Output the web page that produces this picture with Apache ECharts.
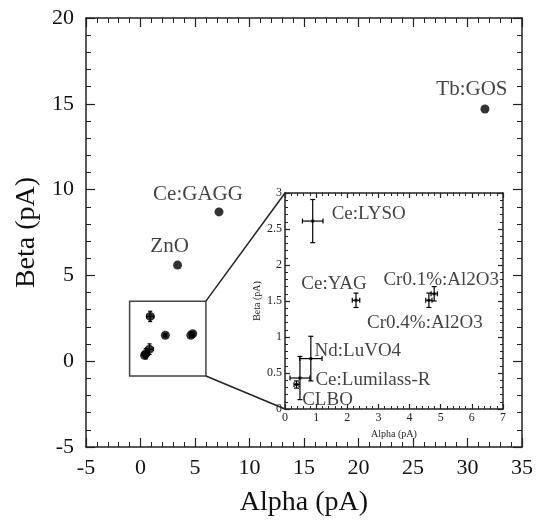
<!DOCTYPE html>
<html><head><meta charset="utf-8">
<script src="https://cdn.jsdelivr.net/npm/echarts@6/dist/echarts.min.js"></script>
<style>html,body{margin:0;padding:0;background:#fff}#c{width:536px;height:522px}</style>
</head><body><div id="c"></div>
<script>
// ---- data ----
const names    = ['Ce:LYSO','Ce:YAG','Cr0.1%:Al2O3','Cr0.4%:Al2O3','Nd:LuVO4','Ce:Lumilass-R','CLBO','ZnO','Ce:GAGG','Tb:GOS'];
const alpha    = [0.89, 2.28, 4.79, 4.62, 0.83, 0.48, 0.37, 3.4, 7.2, 31.6];
const beta     = [2.61, 1.51, 1.60, 1.51, 0.70, 0.43, 0.34, 5.6, 8.7, 14.7];
const alphaErr = [0.33, 0.12, 0.10, 0.10, 0.36, 0.32, 0.08, 0, 0, 0];
const betaErr  = [0.30, 0.10, 0.10, 0.10, 0.31, 0.30, 0.05, 0, 0, 0];
const mainLabeled  = ['ZnO','Ce:GAGG','Tb:GOS'];
const insetLabeled = ['Ce:LYSO','Ce:YAG','Cr0.1%:Al2O3','Cr0.4%:Al2O3','Nd:LuVO4','Ce:Lumilass-R','CLBO'];
const zoomX = [-1, 6];
const zoomY = [-0.86, 3.5];
const mainXRange = [-5, 35], mainYRange = [-5, 20];
const insetXRange = [0, 7], insetYRange = [0, 3];

// ---- styles ----
const FONT = 'Liberation Serif';
const labelOffsets = {
  'ZnO':[-8,-19], 'Ce:GAGG':[-21,-17], 'Tb:GOS':[-13,-19],
  'Ce:LYSO':[56,-7], 'Ce:YAG':[-22,-16], 'Cr0.1%:Al2O3':[7,-14], 'Cr0.4%:Al2O3':[-4,23],
  'Nd:LuVO4':[47,-8], 'Ce:Lumilass-R':[73,2], 'CLBO':[31,15]
};

const chart = echarts.init(document.getElementById('c'), null, {renderer:'canvas'});

function axisCommon(range, interval, opts) {
  return Object.assign({
    type:'value', min:range[0], max:range[1], interval:interval,
    splitLine:{show:false},
    axisLine:{show:true, onZero:false, lineStyle:{color:'#222', width:1.5}},
    axisTick:{show:true, inside:true, length:opts.major, lineStyle:{color:'#222', width:1.2}},
    minorTick:{show:true, splitNumber:opts.split, length:opts.minor, lineStyle:{color:'#222', width:1}},
  }, opts.extra || {});
}

const errData = names.map((n,i)=>[alpha[i], beta[i], alphaErr[i], betaErr[i]]);
function errRender(cap, lw){
  return function(params, api){
    const x=api.value(0), y=api.value(1), ex=api.value(2), ey=api.value(3);
    const ch=[]; const st={stroke:'#000', lineWidth:lw};
    if (ey>0){
      const t=api.coord([x,y+ey]), b=api.coord([x,y-ey]);
      ch.push({type:'line', shape:{x1:t[0],y1:t[1],x2:b[0],y2:b[1]}, style:st});
      ch.push({type:'line', shape:{x1:t[0]-cap,y1:t[1],x2:t[0]+cap,y2:t[1]}, style:st});
      ch.push({type:'line', shape:{x1:b[0]-cap,y1:b[1],x2:b[0]+cap,y2:b[1]}, style:st});
    }
    if (ex>0){
      const l=api.coord([x-ex,y]), r=api.coord([x+ex,y]);
      ch.push({type:'line', shape:{x1:l[0],y1:l[1],x2:r[0],y2:r[1]}, style:st});
      ch.push({type:'line', shape:{x1:l[0],y1:l[1]-cap,x2:l[0],y2:l[1]+cap}, style:st});
      ch.push({type:'line', shape:{x1:r[0],y1:r[1]-cap,x2:r[0],y2:r[1]+cap}, style:st});
    }
    return {type:'group', children:ch};
  };
}

function scatterData(labeledList, fontSize){
  return names.map((n,i)=>({
    value:[alpha[i], beta[i]], name:n,
    label:{show: labeledList.indexOf(n)>=0, formatter:n, position:'inside', offset: labelOffsets[n] || [0,0],
           fontFamily:FONT, fontSize:fontSize, color:'#111'}
  }));
}

const option = {
  animation:false,
  backgroundColor:'#fff',
  grid:[
    {left:86, right:13, top:18, bottom:69},
    {left:285, top:193, width:218, height:216, show:true, backgroundColor:'#fff', borderWidth:0}
  ],
  xAxis:[
    axisCommon(mainXRange, 5, {major:9, minor:5, split:5, extra:{gridIndex:0, position:'bottom',
      axisLabel:{fontFamily:FONT, fontSize:22, color:'#111', margin:10},
      name:'Alpha (pA)', nameLocation:'middle', nameGap:42, nameTextStyle:{fontFamily:FONT, fontSize:28, color:'#111'}}}),
    axisCommon(mainXRange, 5, {major:9, minor:5, split:5, extra:{gridIndex:0, position:'top', axisLabel:{show:false}}}),
    axisCommon(insetXRange, 1, {major:5, minor:3, split:5, extra:{gridIndex:1, position:'bottom',
      axisLabel:{fontFamily:FONT, fontSize:12, color:'#222', margin:3},
      name:'Alpha (pA)', nameLocation:'middle', nameGap:20, nameTextStyle:{fontFamily:FONT, fontSize:10, color:'#222'}}}),
    axisCommon(insetXRange, 1, {major:5, minor:3, split:5, extra:{gridIndex:1, position:'top', axisLabel:{show:false}}})
  ],
  yAxis:[
    axisCommon(mainYRange, 5, {major:9, minor:5, split:5, extra:{gridIndex:0, position:'left',
      axisLabel:{fontFamily:FONT, fontSize:22, color:'#111', margin:12},
      name:'Beta (pA)', nameLocation:'middle', nameGap:45, nameTextStyle:{fontFamily:FONT, fontSize:28, color:'#111'}}}),
    axisCommon(mainYRange, 5, {major:9, minor:5, split:5, extra:{gridIndex:0, position:'right', axisLabel:{show:false}}}),
    axisCommon(insetYRange, 0.5, {major:5, minor:3, split:5, extra:{gridIndex:1, position:'left',
      axisLabel:{fontFamily:FONT, fontSize:12, color:'#222', margin:3},
      name:'Beta (pA)', nameLocation:'middle', nameGap:23, nameTextStyle:{fontFamily:FONT, fontSize:10, color:'#222'}}}),
    axisCommon(insetYRange, 0.5, {major:5, minor:3, split:5, extra:{gridIndex:1, position:'right', axisLabel:{show:false}}})
  ],
  series:[
    {type:'custom', xAxisIndex:0, yAxisIndex:0, data:[[zoomX[0], zoomY[0], zoomX[1], zoomY[1]]],
      renderItem:function(p, api){
        const a=api.coord([api.value(0), api.value(3)]), b=api.coord([api.value(2), api.value(1)]);
        return {type:'rect', shape:{x:a[0], y:a[1], width:b[0]-a[0], height:b[1]-a[1]},
          style:{fill:null, stroke:'#444', lineWidth:1.5}};
      }, silent:true, z:1},
    {type:'custom', xAxisIndex:0, yAxisIndex:0, data:errData, renderItem:errRender(2, 1.2), z:3},
    {type:'scatter', xAxisIndex:0, yAxisIndex:0, symbol:'circle', symbolSize:9,
      itemStyle:{color:'#000'}, data:scatterData(mainLabeled, 21), z:4},
    {type:'custom', xAxisIndex:2, yAxisIndex:2, data:errData.slice(0,7), renderItem:errRender(2.5, 1.2), z:5},
    {type:'scatter', xAxisIndex:2, yAxisIndex:2, symbol:'rect', symbolSize:3,
      itemStyle:{color:'#000'}, data:scatterData(insetLabeled, 19).slice(0,7), z:6}
  ]
};
chart.setOption(option);

// connector lines from zoom box to inset corners
const p1 = chart.convertToPixel({xAxisIndex:0, yAxisIndex:0}, [zoomX[1], zoomY[1]]);
const p2 = chart.convertToPixel({xAxisIndex:0, yAxisIndex:0}, [zoomX[1], zoomY[0]]);
const q1 = chart.convertToPixel({xAxisIndex:2, yAxisIndex:2}, [insetXRange[0], insetYRange[1]]);
const q2 = chart.convertToPixel({xAxisIndex:2, yAxisIndex:2}, [insetXRange[0], insetYRange[0]]);
chart.setOption({graphic:[
  {type:'line', shape:{x1:p1[0], y1:p1[1], x2:q1[0], y2:q1[1]}, style:{stroke:'#222', lineWidth:1.5}, z:10},
  {type:'line', shape:{x1:p2[0], y1:p2[1], x2:q2[0], y2:q2[1]}, style:{stroke:'#222', lineWidth:1.5}, z:10}
]});
</script>
</body></html>
